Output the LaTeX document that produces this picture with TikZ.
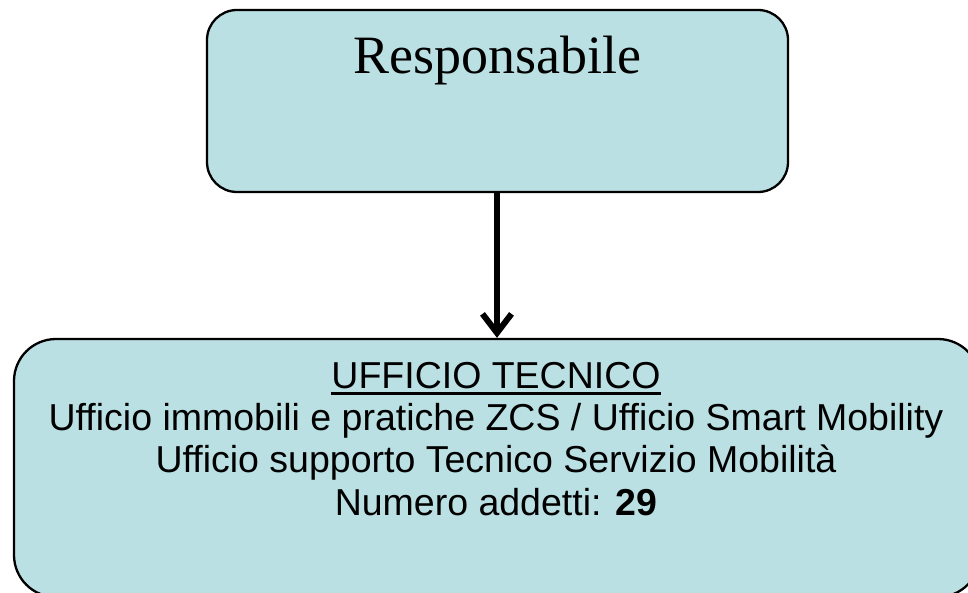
\documentclass[tikz,border=0pt]{standalone}
\usepackage{fontspec}
\setmainfont{Liberation Sans}
\newfontfamily\serifres{Liberation Serif}
\usetikzlibrary{arrows.meta}
\definecolor{boxfill}{RGB}{186,224,227}
\tikzset{
  orgbox/.style={draw=black, line width=2.3pt, fill=boxfill, rounded corners=#1, inner sep=0pt},
  linetext/.style={anchor=base, inner sep=0pt, font=\fontsize{37.5}{42.5}\selectfont},
  link/.style={line width=6pt, -{Straight Barb[length=19pt,width=29pt,line width=6pt]}},
  uline/.style={line width=2.6pt}
}
\begin{document}
\begin{tikzpicture}[x=1pt,y=-1pt]
\useasboundingbox (0,0) rectangle (968,593);
\clip (0,0) rectangle (968,593);
\fill[white] (0,0) rectangle (968,593);
\node[orgbox=30pt, minimum width=581pt, minimum height=182pt] (resp) at (497.5,101) {};
\node[orgbox=42pt, minimum width=966pt, minimum height=258pt] (uff) at (497,468) {};
\node[anchor=base, inner sep=0pt, font=\serifres\fontsize{54}{60}\selectfont] (resptext) at (497,74) {Responsabile};
\node[linetext] (l1) at (496,388) {UFFICIO TECNICO};
\draw[uline] ([yshift=-5.5pt]l1.base west) -- ([yshift=-5.5pt]l1.base east);
\node[linetext] (l2) at (496,430) {Ufficio immobili e pratiche ZCS / Ufficio Smart Mobility};
\node[linetext] (l3) at (496,472) {Ufficio supporto Tecnico Servizio Mobilità};
\node[linetext] (l4) at (496,515) {Numero addetti: \textbf{29}};
\draw[link] (resp.south -| 497,0) -- (uff.north -| 497,0);
\end{tikzpicture}
\end{document}
